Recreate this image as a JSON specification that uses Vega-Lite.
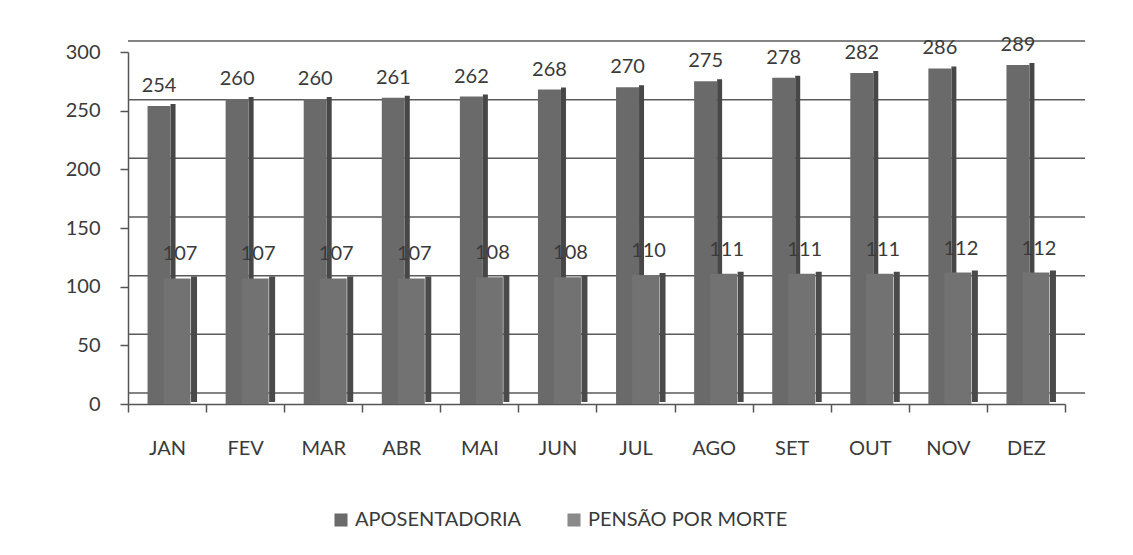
{
  "$schema": "https://vega.github.io/schema/vega-lite/v6.json",
  "width": 937,
  "height": 352,
  "autosize": "none",
  "padding": {"left": 128, "top": 52, "right": 68, "bottom": 151},
  "background": "white",
  "datasets": {
    "grid": [{"v": 0}, {"v": 50}, {"v": 100}, {"v": 150}, {"v": 200}, {"v": 250}, {"v": 300}],
    "dados": [
      {"mes": "JAN", "serie": "APOSENTADORIA", "valor": 254},
      {"mes": "FEV", "serie": "APOSENTADORIA", "valor": 260},
      {"mes": "MAR", "serie": "APOSENTADORIA", "valor": 260},
      {"mes": "ABR", "serie": "APOSENTADORIA", "valor": 261},
      {"mes": "MAI", "serie": "APOSENTADORIA", "valor": 262},
      {"mes": "JUN", "serie": "APOSENTADORIA", "valor": 268},
      {"mes": "JUL", "serie": "APOSENTADORIA", "valor": 270},
      {"mes": "AGO", "serie": "APOSENTADORIA", "valor": 275},
      {"mes": "SET", "serie": "APOSENTADORIA", "valor": 278},
      {"mes": "OUT", "serie": "APOSENTADORIA", "valor": 282},
      {"mes": "NOV", "serie": "APOSENTADORIA", "valor": 286},
      {"mes": "DEZ", "serie": "APOSENTADORIA", "valor": 289},
      {"mes": "JAN", "serie": "PENSÃO POR MORTE", "valor": 107},
      {"mes": "FEV", "serie": "PENSÃO POR MORTE", "valor": 107},
      {"mes": "MAR", "serie": "PENSÃO POR MORTE", "valor": 107},
      {"mes": "ABR", "serie": "PENSÃO POR MORTE", "valor": 107},
      {"mes": "MAI", "serie": "PENSÃO POR MORTE", "valor": 108},
      {"mes": "JUN", "serie": "PENSÃO POR MORTE", "valor": 108},
      {"mes": "JUL", "serie": "PENSÃO POR MORTE", "valor": 110},
      {"mes": "AGO", "serie": "PENSÃO POR MORTE", "valor": 111},
      {"mes": "SET", "serie": "PENSÃO POR MORTE", "valor": 111},
      {"mes": "OUT", "serie": "PENSÃO POR MORTE", "valor": 111},
      {"mes": "NOV", "serie": "PENSÃO POR MORTE", "valor": 112},
      {"mes": "DEZ", "serie": "PENSÃO POR MORTE", "valor": 112}
    ]
  },
  "config": {
    "font": "Lato",
    "axis": {"grid": false, "labelFont": "Lato", "labelFontSize": 20, "labelColor": "#3a3a3a", "domainColor": "#555", "tickColor": "#555", "domainWidth": 1.5, "tickWidth": 1.5},
    "legend": {"labelFont": "Lato", "labelFontSize": 20, "labelColor": "#3a3a3a", "labelLimit": 400},
    "view": {"stroke": null}
  },
  "layer": [
    {
      "data": {"name": "grid"},
      "mark": {"type": "rule", "xOffset": 20, "yOffset": -11, "color": "#5a5a5a", "strokeWidth": 1.5},
      "encoding": {
        "y": {"field": "v", "type": "quantitative", "scale": {"domain": [0, 300], "nice": false}, "title": null,
              "axis": {"values": [0, 50, 100, 150, 200, 250, 300], "tickSize": 8, "labelPadding": 20}}
      }
    },
    {
      "data": {"name": "dados"},
      "transform": [{"filter": "datum.serie === 'APOSENTADORIA'"}],
      "mark": {"type": "bar", "width": 5, "xOffset": 6, "yOffset": -2, "color": "#474747"},
      "encoding": {
        "x": {"field": "mes", "type": "nominal", "sort": null, "scale": {"paddingInner": 0, "paddingOuter": 0}, "title": null,
              "axis": {"labelAngle": 0, "tickBand": "extent", "tickSize": 8, "labelPadding": 26}},
        "y": {"field": "valor", "type": "quantitative"}
      }
    },
    {
      "data": {"name": "dados"},
      "transform": [{"filter": "datum.serie === 'APOSENTADORIA'"}],
      "mark": {"type": "bar", "width": 23, "xOffset": -8},
      "encoding": {
        "x": {"field": "mes", "type": "nominal", "sort": null},
        "y": {"field": "valor", "type": "quantitative"},
        "color": {"field": "serie", "type": "nominal", "title": null,
                  "scale": {"domain": ["APOSENTADORIA", "PENSÃO POR MORTE"], "range": ["#6a6a6a", "#8a8a8a"]},
                  "legend": {"orient": "none", "direction": "horizontal", "legendX": 203, "legendY": 458, "symbolType": "square", "symbolSize": 170, "symbolStrokeWidth": 0, "columnPadding": 42, "labelOffset": 4, "labelLimit": 400}}
      }
    },
    {
      "data": {"name": "dados"},
      "transform": [{"filter": "datum.serie === 'APOSENTADORIA'"}],
      "mark": {"type": "text", "xOffset": -8, "dy": -14, "baseline": "alphabetic", "fontSize": 20, "color": "#3a3a3a"},
      "encoding": {
        "x": {"field": "mes", "type": "nominal", "sort": null},
        "y": {"field": "valor", "type": "quantitative"},
        "text": {"field": "valor", "type": "quantitative"}
      }
    },
    {
      "data": {"name": "dados"},
      "transform": [{"filter": "datum.serie === 'PENSÃO POR MORTE'"}],
      "mark": {"type": "bar", "width": 6, "xOffset": 27, "yOffset": -2, "color": "#4a4a4a"},
      "encoding": {
        "x": {"field": "mes", "type": "nominal", "sort": null},
        "y": {"field": "valor", "type": "quantitative"}
      }
    },
    {
      "data": {"name": "dados"},
      "transform": [{"filter": "datum.serie === 'PENSÃO POR MORTE'"}],
      "mark": {"type": "bar", "width": 27, "xOffset": 10, "color": "#727272"},
      "encoding": {
        "x": {"field": "mes", "type": "nominal", "sort": null},
        "y": {"field": "valor", "type": "quantitative"}
      }
    },
    {
      "data": {"name": "dados"},
      "transform": [{"filter": "datum.serie === 'PENSÃO POR MORTE'"}],
      "mark": {"type": "text", "xOffset": 13, "dy": -18, "baseline": "alphabetic", "fontSize": 20, "color": "#3a3a3a"},
      "encoding": {
        "x": {"field": "mes", "type": "nominal", "sort": null},
        "y": {"field": "valor", "type": "quantitative"},
        "text": {"field": "valor", "type": "quantitative"}
      }
    }
  ]
}
